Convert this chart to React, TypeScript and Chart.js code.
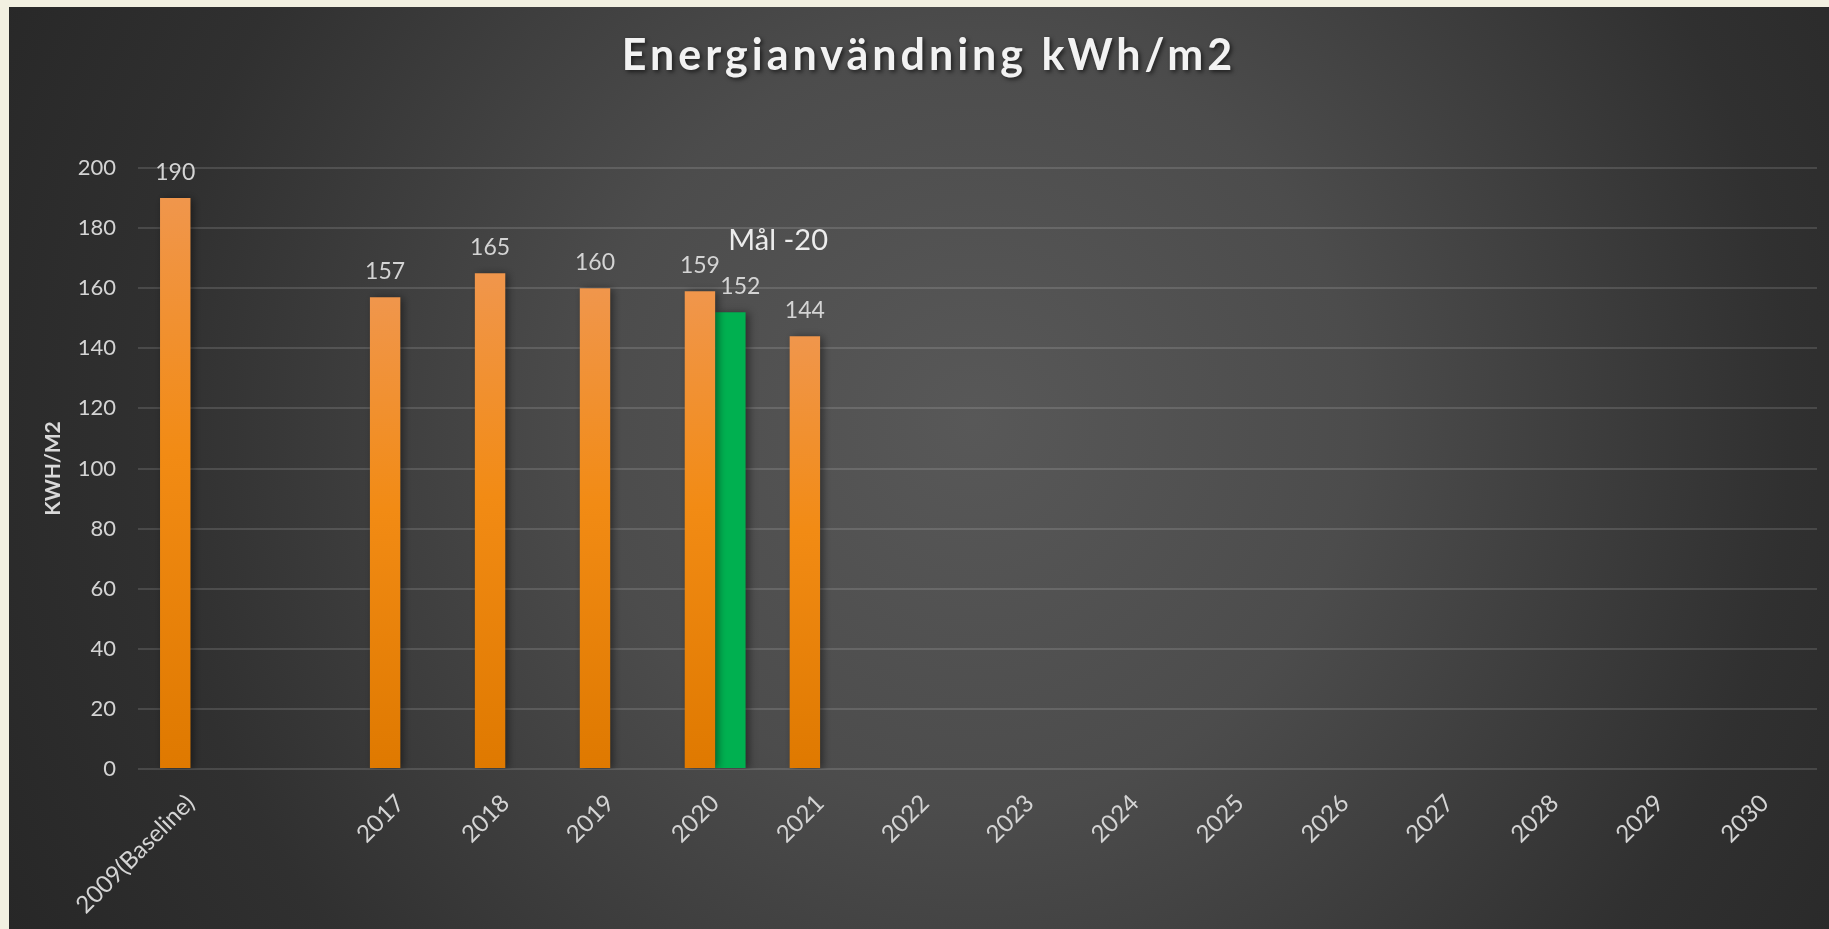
import React, { useEffect, useRef } from 'react';
import { Chart, registerables } from 'chart.js';

Chart.register(...registerables);

const TITLE = 'Energianvändning kWh/m2';
const Y_TITLE = 'KWH/M2';
const CATEGORIES = ['2009(Baseline)', '', '2017', '2018', '2019', '2020', '2021', '2022', '2023', '2024', '2025', '2026', '2027', '2028', '2029', '2030'];
const ACTUAL = [190, null, 157, 165, 160, 159, 144, null, null, null, null, null, null, null, null, null];
const GOAL = [null, null, null, null, null, 152, null, null, null, null, null, null, null, null, null, null];
const ACTUAL_NAME = 'Energianvändning';
const GOAL_NAME = 'Mål -20';
const Y_MIN = 0;
const Y_MAX = 200;
const Y_STEP = 20;

const FONT = 'Lato, "Open Sans", sans-serif';

const bgPlugin = {
  id: 'bgPlugin',
  beforeDraw(chart: any) {
    const { ctx, width, height } = chart;
    ctx.save();
    const g = ctx.createRadialGradient(width * 0.53, height * 0.45, 0, width * 0.53, height * 0.45, width * 0.6);
    g.addColorStop(0, '#585858');
    g.addColorStop(0.35, '#4c4c4c');
    g.addColorStop(0.75, '#303030');
    g.addColorStop(1, '#272727');
    ctx.fillStyle = g;
    ctx.fillRect(0, 0, width, height);
    ctx.restore();
  },
};

const shadowPlugin = {
  id: 'shadowPlugin',
  beforeDatasetDraw(chart: any) {
    const ctx = chart.ctx;
    ctx.save();
    ctx.shadowColor = 'rgba(0,0,0,0.45)';
    ctx.shadowBlur = 8;
    ctx.shadowOffsetX = 3;
    ctx.shadowOffsetY = 1;
  },
  afterDatasetDraw(chart: any) {
    chart.ctx.restore();
  },
};

const titlePlugin = {
  id: 'titlePlugin',
  afterDraw(chart: any) {
    const ctx = chart.ctx;
    ctx.save();
    ctx.font = `bold 43px ${FONT}`;
    (ctx as any).letterSpacing = '4px';
    ctx.fillStyle = '#f2f2f2';
    ctx.textAlign = 'center';
    ctx.textBaseline = 'middle';
    ctx.shadowColor = 'rgba(0,0,0,0.6)';
    ctx.shadowBlur = 4;
    ctx.shadowOffsetX = 2;
    ctx.shadowOffsetY = 2;
    ctx.fillText(TITLE, chart.width / 2 + 10, 49);
    ctx.restore();
  },
};

const labelPlugin = {
  id: 'labelPlugin',
  afterDatasetsDraw(chart: any) {
    const ctx = chart.ctx;
    ctx.save();
    chart.data.datasets.forEach((ds: any, di: number) => {
      const meta = chart.getDatasetMeta(di);
      meta.data.forEach((bar: any, i: number) => {
        const v = ds.data[i];
        if (v === null || v === undefined) return;
        ctx.font = `23px ${FONT}`;
        ctx.fillStyle = '#d4d4d4';
        ctx.textAlign = 'center';
        ctx.textBaseline = 'bottom';
        ctx.fillText(String(v), bar.x + (di === 1 ? 10 : 0), bar.y - 14);
        if (di === 1) {
          ctx.font = `29px ${FONT}`;
          ctx.fillStyle = '#ececec';
          ctx.textAlign = 'left';
          ctx.textBaseline = 'middle';
          ctx.fillText(ds.label, bar.x - 2, bar.y - 72);
        }
      });
    });
    ctx.restore();
  },
};

function orangeGradient(context: any) {
  const chart = context.chart;
  const { ctx, chartArea, scales } = chart;
  if (!chartArea) return '#ee8a10';
  const v = context.raw;
  if (v === null || v === undefined) return '#ee8a10';
  const top = scales.y.getPixelForValue(v);
  const bottom = scales.y.getPixelForValue(0);
  const g = ctx.createLinearGradient(0, top, 0, bottom);
  g.addColorStop(0, '#f0964c');
  g.addColorStop(0.45, '#f28b14');
  g.addColorStop(1, '#df7900');
  return g;
}

export default function App() {
  const ref = useRef<HTMLCanvasElement | null>(null);
  useEffect(() => {
    if (!ref.current) return;
    const chart = new Chart(ref.current, {
      type: 'bar',
      data: {
        labels: CATEGORIES,
        datasets: [
          {
            label: ACTUAL_NAME,
            data: ACTUAL,
            backgroundColor: orangeGradient,
            barPercentage: 1,
            categoryPercentage: 0.58,
          },
          {
            label: GOAL_NAME,
            data: GOAL,
            backgroundColor: '#00b050',
            barPercentage: 1,
            categoryPercentage: 0.58,
          },
        ],
      },
      options: {
        animation: false,
        responsive: true,
        maintainAspectRatio: false,
        layout: { padding: { top: 161, right: 12, left: 0, bottom: 0 } },
        plugins: {
          legend: { display: false },
          title: { display: false },
          tooltip: { enabled: false },
        },
        scales: {
          x: {
            grid: { display: false },
            border: { display: false },
            ticks: {
              color: '#d4d4d4',
              font: { family: FONT, size: 24 },
              minRotation: 45,
              maxRotation: 45,
              padding: 12,
              autoSkip: false,
            },
            afterFit(scale: any) {
              scale.height = 160;
            },
          },
          y: {
            min: Y_MIN,
            max: Y_MAX,
            border: { display: false },
            grid: { color: 'rgba(255,255,255,0.13)', lineWidth: 2, drawTicks: false },
            ticks: {
              stepSize: Y_STEP,
              color: '#d4d4d4',
              font: { family: FONT, size: 22 },
              padding: 22,
            },
            title: {
              display: true,
              text: Y_TITLE,
              color: '#d9d9d9',
              font: { family: FONT, size: 21, weight: 'bold' },
              padding: { top: 32, bottom: 0 },
            },
            afterFit(scale: any) {
              scale.width = 129;
            },
          },
        },
      },
      plugins: [bgPlugin, shadowPlugin, labelPlugin, titlePlugin],
    } as any);
    return () => chart.destroy();
  }, []);

  return (
    <div style={{ position: 'fixed', left: 0, top: 0, right: 0, bottom: 0, background: '#f2f0e1' }}>
      <div style={{ position: 'absolute', left: 9, top: 7, width: 1820, height: 922 }}>
        <canvas ref={ref} />
      </div>
    </div>
  );
}
